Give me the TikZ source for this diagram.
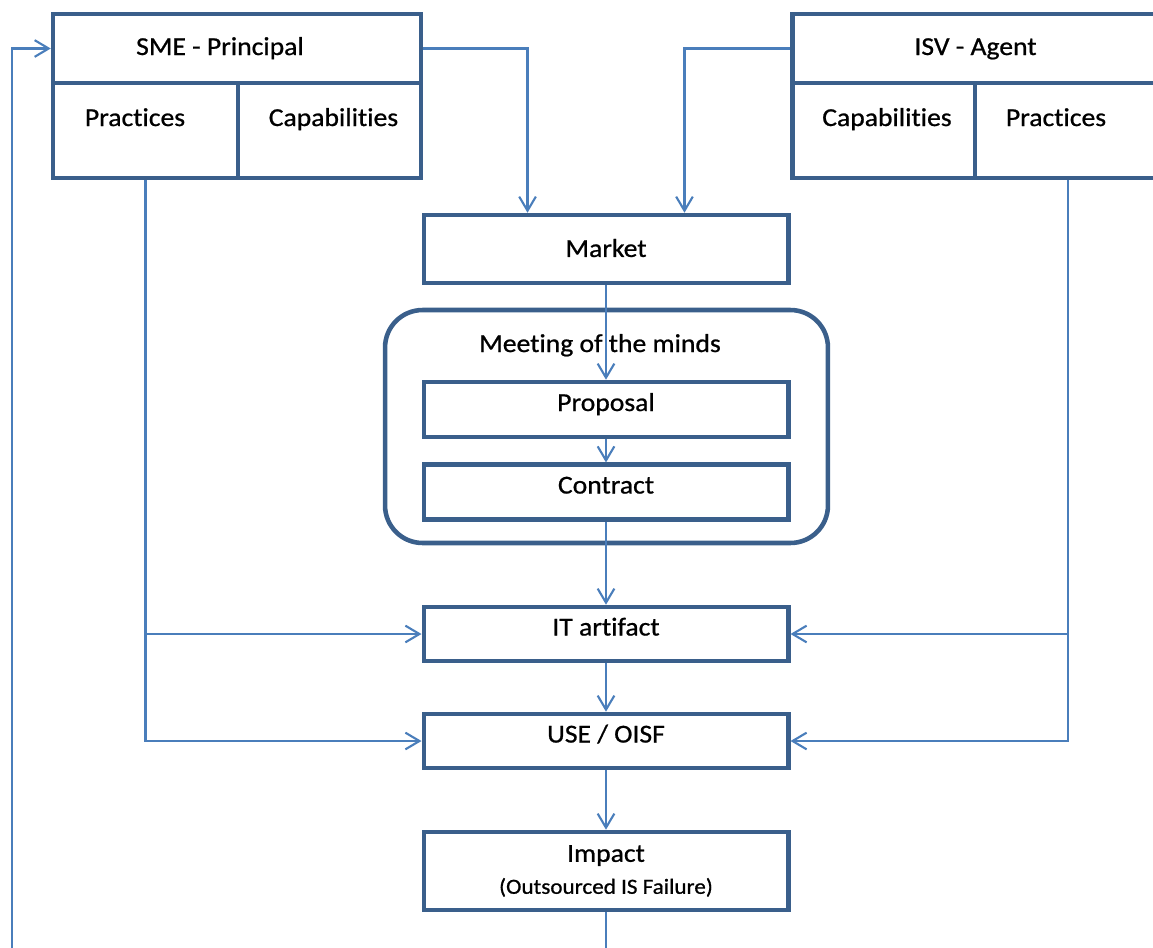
\documentclass[tikz,border=0pt]{standalone}
\usepackage{fontspec}
\setmainfont{Carlito}[FakeStretch=1.07, FakeBold=0.8, Ligatures=NoCommon]
\usetikzlibrary{arrows.meta, positioning}
\definecolor{boxblue}{HTML}{3A5F8B}
\definecolor{linkblue}{HTML}{4A7EBB}
\tikzset{
  cell/.style={draw=boxblue, line width=2.6pt, inner sep=0pt},
  box/.style={cell, minimum width=7.29cm, font=\fontsize{14.7}{18.2}\selectfont},
  slim/.style={box, text height=10pt, text depth=8.3pt},
  lbl/.style={inner sep=0pt, font=\fontsize{14.7}{18.2}\selectfont},
  link/.style={draw=linkblue, line width=1.2pt, -{Straight Barb[length=8pt,width=9.5pt]}},
}

\begin{document}
\begin{tikzpicture}[x=0.02cm, y=-0.02cm]
\path[use as bounding box] (0,0) rectangle (1153,947);
\clip (0,0) rectangle (1153,947);
% principal
\node[cell, minimum width=7.36cm, minimum height=1.38cm] (smetop) at (237,48.5) {};
\node[cell, minimum width=3.70cm, minimum height=1.90cm] (smeprac) at (145.5,130.5) {};
\node[cell, minimum width=3.66cm, minimum height=1.90cm] (smecap) at (329.5,130.5) {};
\node[lbl, anchor=base] (smename) at (220,55) {SME - Principal};
\node[lbl, anchor=base] (smepractxt) at (135,126) {Practices};
\node[lbl, anchor=base] (smecaptxt) at (333.5,126) {Capabilities};
% agent
\node[cell, minimum width=7.36cm, minimum height=1.38cm] (isvtop) at (976.5,48.5) {};
\node[cell, minimum width=3.65cm, minimum height=1.90cm] (isvcap) at (883.75,130.5) {};
\node[cell, minimum width=3.71cm, minimum height=1.90cm] (isvprac) at (1067.75,130.5) {};
\node[lbl, anchor=base] (isvname) at (975.5,55) {ISV - Agent};
\node[lbl, anchor=base] (isvcaptxt) at (887,126) {Capabilities};
\node[lbl, anchor=base] (isvpractxt) at (1056,126) {Practices};
% middle column
\node[box, minimum height=1.36cm, text height=10pt, text depth=1pt] (market) at (606,249) {Market};
\node[cell, minimum width=8.86cm, minimum height=4.66cm, rounded corners=0.75cm] (minds) at (606.5,426.5) {};
\node[lbl, anchor=base] (mindstitle) at (600,352) {Meeting of the minds};
\node[slim, minimum height=1.10cm] (proposal) at (606,409.5) {Proposal};
\node[slim, minimum height=1.09cm] (contract) at (606,492) {Contract};
\node[slim, minimum height=1.08cm] (itart) at (606,634) {IT artifact};
\node[slim, minimum height=1.08cm] (useoisf) at (606,741) {USE / OISF};
\node[box, minimum height=1.56cm, align=center] (impact) at (606,871)
  {Impact\\{\fontsize{12.3}{14}\selectfont (Outsourced IS Failure)}};
\coordinate (loopturn) at (12,1000);
% connectors
\draw[link] (smetop.east) -| ([xshift=-1.57cm]market.north);
\draw[link] (isvtop.west) -| ([xshift=1.57cm]market.north);
\draw[link] (market) -- (proposal);
\draw[link] (proposal) -- (contract);
\draw[link] (contract) -- (itart);
\draw[link] (itart) -- (useoisf);
\draw[link] (useoisf) -- (impact);
\draw[link] (smeprac.south) |- (itart.west);
\draw[link] (smeprac.south) |- (useoisf.west);
\draw[link] (isvprac.south) |- (itart.east);
\draw[link] (isvprac.south) |- (useoisf.east);
\draw[link] (impact.south) |- (loopturn) |- (smetop.west);
\end{tikzpicture}
\end{document}
